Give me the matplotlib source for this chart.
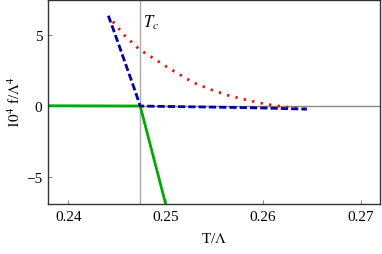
import numpy as np
from matplotlib import pyplot as plt

# critical temperature
Tc = 0.24737

# blue dashed branch (deconfined, unstable -> stable)
T_blue = [0.2441, 0.2450, 0.2460, 0.2467, Tc, 0.2500, 0.2550, 0.2600, 0.2645]
f_blue = [6.36, 4.65, 2.70, 1.35, 0.0, -0.03, -0.08, -0.14, -0.22]

# red dotted branch
T_red = [0.24457, 0.24573, 0.24724, 0.24873, 0.25027, 0.25174, 0.25276,
         0.25464, 0.25651, 0.25846, 0.26037, 0.26231, 0.26436]
f_red = [5.94, 5.00, 4.01, 3.36, 2.68, 2.09, 1.67, 1.15, 0.73, 0.40, 0.12, -0.07, -0.21]

# green solid branch (confined)
T_green = [0.2370, 0.2420, Tc, 0.2501]
f_green = [0.02, 0.01, 0.0, -7.2]

xticks = [0.24, 0.25, 0.26, 0.27]
yticks = [-5, 0, 5]

plt.rcParams['font.family'] = ['Liberation Serif', 'DejaVu Serif']
plt.rcParams['mathtext.fontset'] = 'stix'

fig = plt.figure(figsize=(3.82, 2.55), dpi=100)
ax = fig.add_axes([48 / 382, 50 / 255, 332 / 382, 204.5 / 255])

ax.axhline(0, color='#888888', lw=1, zorder=1)
ax.axvline(Tc, color='#aaaaaa', lw=1, zorder=1)

ax.plot(T_red, f_red, color='#ff0000', lw=2, linestyle=(0, (0.8, 2.3)), zorder=3)
ax.plot(T_green, f_green, color='#00aa00', lw=2, zorder=2)
ax.plot(T_blue, f_blue, color='#0000a0', lw=2, linestyle=(0, (2.6, 1.1)), zorder=4)

ax.text(Tc + 0.0003, 5.9, r'$T_c$', fontsize=12, va='center', ha='left')

ax.set_xlim(0.2379, 0.2720)
ax.set_ylim(-6.9, 7.5)
ax.set_xticks(xticks)
ax.set_xticklabels(['0.24', '0.25', '0.26', '0.27'])
ax.set_yticks(yticks)
ax.set_yticklabels(['\u22125', '0', '5'])
ax.tick_params(direction='in', length=3, width=0.8, color='#888888', labelsize=11, pad=4)

for s in ax.spines.values():
    s.set_color('#333333')
    s.set_linewidth(1)

ax.set_xlabel(r'T/$\Lambda$', fontsize=11, labelpad=6)
ax.set_ylabel(r'$10^4$ f/$\Lambda^4$', fontsize=11, labelpad=2)

fig.savefig('out.png', dpi=100)
